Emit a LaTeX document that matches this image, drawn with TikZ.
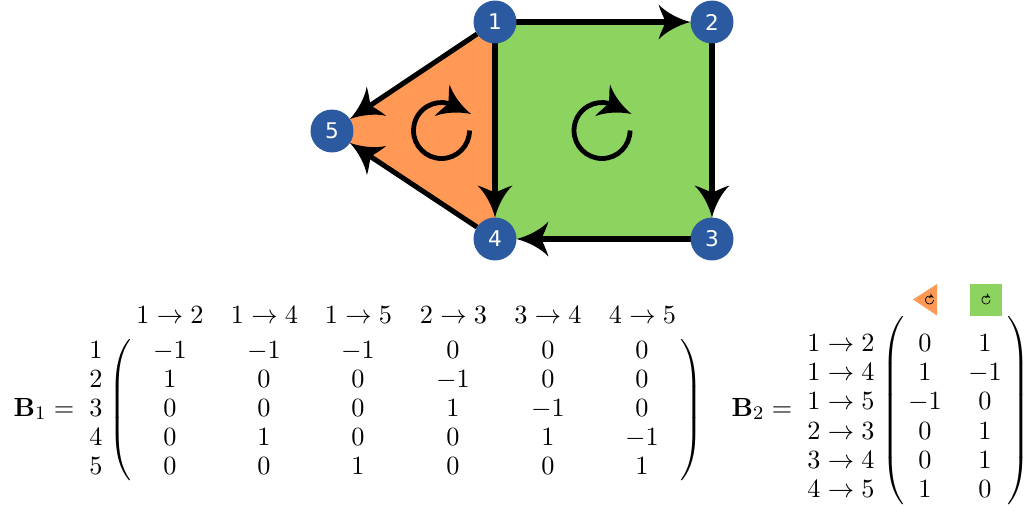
\documentclass[tikz,border=0pt,11pt]{standalone}
\usepackage{amsmath}
\usepackage[no-math]{fontspec}
\usetikzlibrary{arrows.meta,backgrounds}
\newfontfamily\nodefont{DejaVu Sans}
\definecolor{tri}{HTML}{FF9955}
\definecolor{sqr}{HTML}{8DD35F}
\definecolor{vert}{HTML}{2C5AA0}
\newcommand{\mkswoop}[2]{%
\pgfdeclarearrow{name=#1,
  setup code={%
    \pgfmathparse{-9*#2}\pgfarrowssetlineend{\pgfmathresult pt}%
    \pgfarrowssettipend{0pt}%
    \pgfmathparse{-13.3*#2}\pgfarrowssetbackend{\pgfmathresult pt}%
    \pgfmathparse{-11*#2}\pgfarrowssetvisualbackend{\pgfmathresult pt}},
  drawing code={%
    \pgfpathmoveto{\pgfpointorigin}%
    \pgfpathcurveto{\pgfpoint{-5pt*#2}{1.2pt*#2}}{\pgfpoint{-10.5pt*#2}{4.2pt*#2}}{\pgfpoint{-13.3pt*#2}{7.3pt*#2}}%
    \pgfpathcurveto{\pgfpoint{-12.4pt*#2}{4pt*#2}}{\pgfpoint{-11pt*#2}{2pt*#2}}{\pgfpoint{-10.5pt*#2}{0pt}}%
    \pgfpathcurveto{\pgfpoint{-11pt*#2}{-2pt*#2}}{\pgfpoint{-12.4pt*#2}{-4pt*#2}}{\pgfpoint{-13.3pt*#2}{-7.3pt*#2}}%
    \pgfpathcurveto{\pgfpoint{-10.5pt*#2}{-4.2pt*#2}}{\pgfpoint{-5pt*#2}{-1.2pt*#2}}{\pgfpointorigin}%
    \pgfpathclose\pgfusepathqfill},
  defaults={}}}
\mkswoop{Swoop}{1}
\mkswoop{SwoopSmall}{0.147}
\newcommand{\turnarrow}[5]{%
  \draw[line width=#4,-{#5}] (#1+#3,#2) arc[start angle=0,end angle=-285,radius=#3*0.41667pt] -- (#1+1.054*#3,#2-0.589*#3);}
\tikzset{
  x=0.41667pt,y=-0.41667pt,
  vertex/.style={circle,fill=vert,text=white,font=\nodefont\fontsize{9}{9}\selectfont,minimum size=17.9pt,inner sep=0pt,outer sep=0pt},
  edge/.style={line width=2.1pt,-{Swoop}},
  ent/.style={anchor=base,inner sep=0pt,outer sep=0pt},
  paren/.style={anchor=center,inner sep=0pt,outer sep=0pt}
}
\begin{document}
\begin{tikzpicture}
\useasboundingbox (0,0) rectangle (1026,510);
\node[vertex] (n1) at (495,22) {1};
\node[vertex] (n2) at (712,22) {2};
\node[vertex] (n3) at (712,239) {3};
\node[vertex] (n4) at (495,239) {4};
\node[vertex] (n5) at (332,131) {5};
\begin{scope}[on background layer]
\fill[sqr] (n1.center) -- (n2.center) -- (n3.center) -- (n4.center) -- cycle;
\fill[tri] (n1.center) -- (n4.center) -- (n5.center) -- cycle;
\draw[edge] (n1) -- (n2);
\draw[edge] (n1) -- (n4);
\draw[edge] (n1) -- (n5);
\draw[edge] (n2) -- (n3);
\draw[edge] (n3) -- (n4);
\draw[edge] (n4) -- (n5);
\end{scope}
\turnarrow{441.5}{130.5}{28}{2pt}{Swoop}
\turnarrow{602}{130.5}{28}{2pt}{Swoop}
% B1
\node[ent] (b1eq) at (44,416) {$\mathbf{B}_1=$};
\foreach \t/\x [count=\c] in {1 \to 2/170,1 \to 4/264.5,1 \to 5/358.5,2 \to 3/453.5,3 \to 4/548,4 \to 5/642.5}
  \node[ent] (bh\c) at (\x,323) {$\t$};
\foreach \t/\y [count=\r] in {1/358,2/387,3/416,4/445,5/474}
  \node[ent] (bl\r) at (96,\y) {$\t$};
\node[paren] (blp) at (121,410.5) {$\left(\rule[-27.5pt]{0pt}{60pt}\right.$};
\node[paren] (brp) at (691,410.5) {$\left.\rule[-27.5pt]{0pt}{60pt}\right)$};
\foreach \vals/\y [count=\r] in {{-1,-1,-1,0,0,0}/358,{1,0,0,-1,0,0}/387,{0,0,0,1,-1,0}/416,{0,1,0,0,1,-1}/445,{0,0,1,0,0,1}/474}
  \foreach \v [count=\c] in \vals {
    \pgfmathsetmacro\xx{{170,264,358,453,548,642}[\c-1]}
    \node[ent] (ba\r\c) at (\xx,\y) {$\v$};
  }
% B2
\node[ent] (b2eq) at (762,416) {$\mathbf{B}_2=$};
\foreach \t/\y [count=\r] in {1 \to 2/351,1 \to 4/380,1 \to 5/409,2 \to 3/439,3 \to 4/468,4 \to 5/497}
  \node[ent] (cl\r) at (841,\y) {$\t$};
\node[paren] (clp) at (894,411) {$\left(\rule[-37pt]{0pt}{79pt}\right.$};
\node[paren,anchor=east] (crp) at (1025.5,411) {\nulldelimiterspace=0pt$\left.\rule[-37pt]{0pt}{79pt}\right)$\kern-2pt};
\foreach \vals/\y [count=\r] in {{0,1}/351,{1,-1}/380,{-1,0}/409,{0,1}/439,{0,1}/468,{1,0}/497}
  \foreach \v [count=\c] in \vals {
    \pgfmathsetmacro\xx{{925,985}[\c-1]}
    \node[ent] (ca\r\c) at (\xx,\y) {$\v$};
  }
\fill[tri] (913,299.5) -- (937,284) -- (937,315.5) -- cycle;
\fill[sqr] (970,284) rectangle (1002,316);
\turnarrow{929.5}{300}{4.1}{0.3pt}{SwoopSmall}
\turnarrow{986}{300}{4.1}{0.3pt}{SwoopSmall}
\end{tikzpicture}
\end{document}
